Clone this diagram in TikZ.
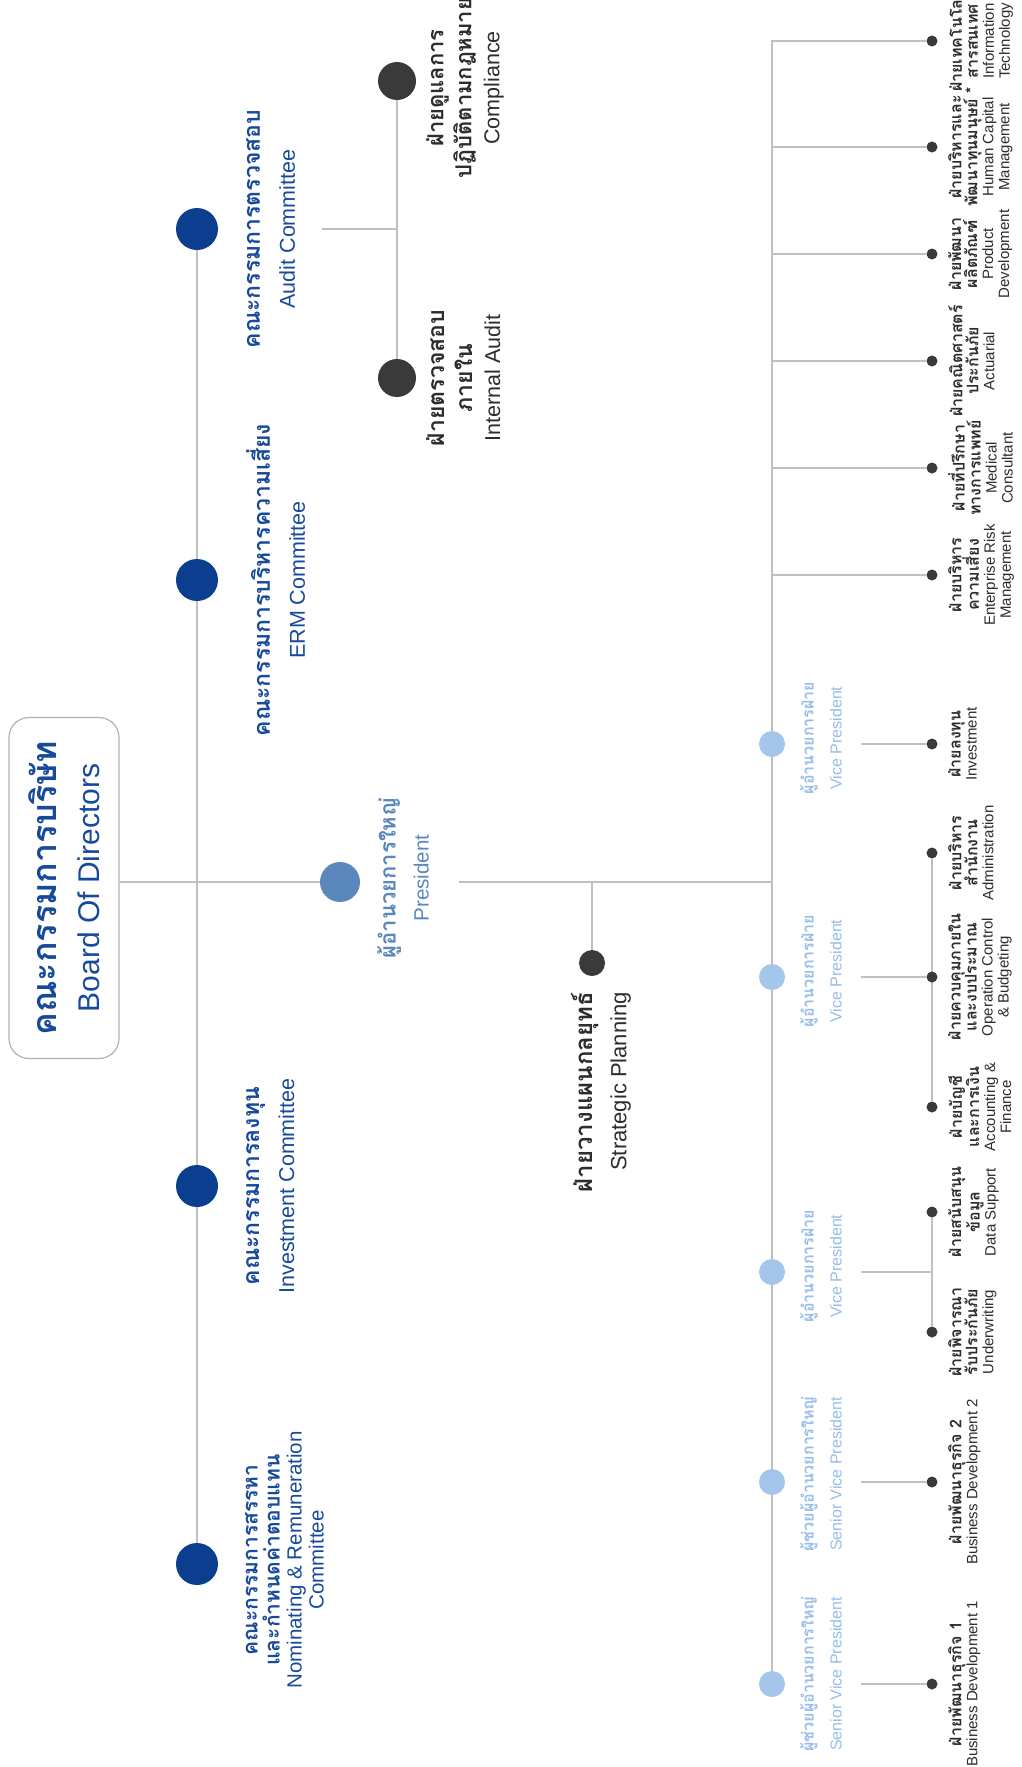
\documentclass[tikz,border=0pt]{standalone}
\usepackage{fontspec}
\setmainfont{Liberation Sans}
\newfontfamily\thaifont[Script=Thai]{Loma}
\usetikzlibrary{backgrounds}

\definecolor{navy}{RGB}{11,62,143}
\definecolor{navytext}{RGB}{24,74,156}
\definecolor{presblue}{RGB}{90,136,189}
\definecolor{vpblue}{RGB}{163,198,234}
\definecolor{vptext}{RGB}{150,190,232}
\definecolor{darkdot}{RGB}{58,58,58}
\definecolor{linegray}{RGB}{192,192,192}
\definecolor{depttext}{RGB}{45,45,45}

% Thai line, bold, size given
\newcommand{\thb}[2]{{\thaifont\bfseries\fontsize{#1}{#1}\selectfont #2}}
\newcommand{\dth}[1]{\thb{16}{#1}}

\tikzset{
  conn/.style={draw=linegray, line width=1.8pt},
  bigdot/.style={circle, fill=navy, minimum size=42pt, inner sep=0pt},
  presdot/.style={circle, fill=presblue, minimum size=40pt, inner sep=0pt},
  vpdot/.style={circle, fill=vpblue, minimum size=26pt, inner sep=0pt},
  unitdot/.style={circle, fill=darkdot, minimum size=38pt, inner sep=0pt},
  deptdot/.style={circle, fill=darkdot, minimum size=11pt, inner sep=0pt},
  lbl/.style={rotate=90, anchor=north, align=center, inner sep=0pt},
  comlbl/.style={lbl, text=navytext, font=\fontsize{21.5}{35}\selectfont},
  vplbl/.style={lbl, text=vptext, font=\fontsize{16}{28}\selectfont},
  deptlbl/.style={lbl, text=depttext, font=\fontsize{15}{16}\selectfont},
  unitlbl/.style={lbl, text=depttext, font=\fontsize{21.5}{28}\selectfont},
}

\begin{document}
\begin{tikzpicture}[x=1pt,y=-1pt]
\useasboundingbox (0,0) rectangle (1021,1767);

% Board
\node[rotate=90, draw=gray!60, line width=1.2pt, rounded corners=20pt, minimum width=341pt, minimum height=110pt, align=center, text=navytext, font=\fontsize{30}{43}\selectfont] (board) at (64,888) {\thb{34}{คณะกรรมการบริษัท}\\Board Of Directors};

% Committees
\node[bigdot] (audit) at (197,229) {};
\node[bigdot] (erm) at (197,580) {};
\node[bigdot] (invc) at (197,1186) {};
\node[bigdot] (nomc) at (197,1564) {};
\node[comlbl] (auditl) at (246,229) {\thb{23}{คณะกรรมการตรวจสอบ}\\Audit Committee};
\node[comlbl] (erml) at (246,580) {\thb{23}{คณะกรรมการบริหารความเสี่ยง}\\ERM Committee};
\node[comlbl] (invcl) at (246,1186) {\thb{23}{คณะกรรมการลงทุน}\\Investment Committee};
\node[comlbl, font=\fontsize{20.5}{22}\selectfont] (nomcl) at (245,1560) {\thb{21}{คณะกรรมการสรรหา}\\\thb{21}{และกำหนดค่าตอบแทน}\\Nominating \& Remuneration\\Committee};

% Audit units
\node[unitdot] (comp) at (397,81) {};
\node[unitdot] (ia) at (397,378) {};
\node[unitlbl] (compl) at (426,88) {\thb{22}{ฝ่ายดูแลการ}\\\thb{22}{ปฏิบัติตามกฎหมาย}\\Compliance};
\node[unitlbl] (ial) at (426,378) {\thb{23}{ฝ่ายตรวจสอบ}\\\thb{23}{ภายใน}\\Internal Audit};

% President
\node[presdot] (pres) at (340,882) {};
\node[lbl, text=presblue, font=\fontsize{20.6}{33}\selectfont] (presl) at (377,878) {\thb{22}{ผู้อำนวยการใหญ่}\\President};
\coordinate (presgo) at (459,882);

% Strategic Planning
\node[circle, fill=darkdot, minimum size=26pt, inner sep=0pt] (strat) at (592,963) {};
\node[rotate=90, anchor=east, align=right, inner sep=0pt, text=depttext, font=\fontsize{22}{34}\selectfont] (stratl) at (601,992) {\thb{24}{ฝ่ายวางแผนกลยุทธ์}\\Strategic Planning};

% Vice presidents
\node[vpdot] (vp1) at (772,744) {};
\node[vpdot] (vp2) at (772,977) {};
\node[vpdot] (vp3) at (772,1272) {};
\node[vpdot] (svp2) at (772,1482) {};
\node[vpdot] (svp1) at (772,1684) {};
\node[vplbl] (vp1l) at (800,738) {\thb{16}{ผู้อำนวยการฝ่าย}\\Vice President};
\node[vplbl] (vp2l) at (800,971) {\thb{16}{ผู้อำนวยการฝ่าย}\\Vice President};
\node[vplbl] (vp3l) at (800,1266) {\thb{16}{ผู้อำนวยการฝ่าย}\\Vice President};
\node[vplbl] (svp2l) at (800,1474) {\thb{16}{ผู้ช่วยผู้อำนวยการใหญ่}\\Senior Vice President};
\node[vplbl] (svp1l) at (800,1674) {\thb{16}{ผู้ช่วยผู้อำนวยการใหญ่}\\Senior Vice President};
\coordinate (vp1go) at (861,744);
\coordinate (vp2go) at (861,977);
\coordinate (vp3go) at (861,1272);
\coordinate (svp2go) at (861,1482);
\coordinate (svp1go) at (861,1684);

% Departments
\node[deptdot] (it) at (932,41) {};
\node[deptdot] (hcm) at (932,147) {};
\node[deptdot] (prod) at (932,254) {};
\node[deptdot] (act) at (932,361) {};
\node[deptdot] (med) at (932,468) {};
\node[deptdot] (risk) at (932,575) {};
\node[deptdot] (inv) at (932,744) {};
\node[deptdot] (adm) at (932,853) {};
\node[deptdot] (opc) at (932,977) {};
\node[deptdot] (acc) at (932,1107) {};
\node[deptdot] (dsup) at (932,1212) {};
\node[deptdot] (uw) at (932,1332) {};
\node[deptdot] (bd2) at (932,1482) {};
\node[deptdot] (bd1) at (932,1684) {};

\node[deptlbl] (itl) at (948,41) {\dth{ฝ่ายเทคโนโลยี}\\\dth{สารสนเทศ}\\Information\\Technology};
\node[deptlbl] (hcml) at (948,147) {\dth{ฝ่ายบริหารและ}\\\dth{พัฒนาทุนมนุษย์ *}\\Human Capital\\Management};
\node[deptlbl] (prodl) at (948,254) {\dth{ฝ่ายพัฒนา}\\\dth{ผลิตภัณฑ์}\\Product\\Development};
\node[deptlbl] (actl) at (948,361) {\dth{ฝ่ายคณิตศาสตร์}\\\dth{ประกันภัย}\\Actuarial};
\node[deptlbl] (medl) at (948,468) {\dth{ฝ่ายที่ปรึกษา}\\\dth{ทางการแพทย์}\\Medical\\Consultant};
\node[deptlbl] (riskl) at (948,575) {\dth{ฝ่ายบริหาร}\\\dth{ความเสี่ยง}\\Enterprise Risk\\Management};
\node[deptlbl] (invl) at (948,744) {\dth{ฝ่ายลงทุน}\\Investment};
\node[deptlbl] (adml) at (948,853) {\dth{ฝ่ายบริหาร}\\\dth{สำนักงาน}\\Administration};
\node[deptlbl] (opcl) at (948,977) {\dth{ฝ่ายควบคุมภายใน}\\\dth{และงบประมาณ}\\Operation Control\\\& Budgeting};
\node[deptlbl] (accl) at (948,1107) {\dth{ฝ่ายบัญชี}\\\dth{และการเงิน}\\Accounting \&\\Finance};
\node[deptlbl] (dsupl) at (948,1212) {\dth{ฝ่ายสนับสนุน}\\\dth{ข้อมูล}\\Data Support};
\node[deptlbl] (uwl) at (948,1332) {\dth{ฝ่ายพิจารณา}\\\dth{รับประกันภัย}\\Underwriting};
\node[deptlbl] (bd2l) at (948,1482) {\dth{ฝ่ายพัฒนาธุรกิจ 2}\\Business Development 2};
\node[deptlbl] (bd1l) at (948,1684) {\dth{ฝ่ายพัฒนาธุรกิจ 1}\\Business Development 1};

\begin{scope}[on background layer]
\fill[white] (0,0) rectangle (1021,1767);
%Straight Lines
\draw[conn] (audit) -- (nomc);
\draw[conn] (board.south |- pres) -- (pres);
\draw[conn] (presgo) -- (pres -| svp1);
\draw[conn] (strat) -- (strat |- pres);
\coordinate (auditgo) at (322,229);
\draw[conn] (auditgo) -- (audit -| comp);
\draw[conn] (comp) -- (ia);
\draw[conn] (svp1) |- (it);
\draw[conn] (hcm -| svp1) -- (hcm);
\draw[conn] (prod -| svp1) -- (prod);
\draw[conn] (act -| svp1) -- (act);
\draw[conn] (med -| svp1) -- (med);
\draw[conn] (risk -| svp1) -- (risk);
\draw[conn] (vp1go) -- (inv);
\draw[conn] (vp2go) -- (opc);
\draw[conn] (adm) -- (acc);
\draw[conn] (vp3go) -- (vp3go -| uw);
\draw[conn] (dsup) -- (uw);
\draw[conn] (svp2go) -- (bd2);
\draw[conn] (svp1go) -- (bd1);
\end{scope}
\end{tikzpicture}
\end{document}
